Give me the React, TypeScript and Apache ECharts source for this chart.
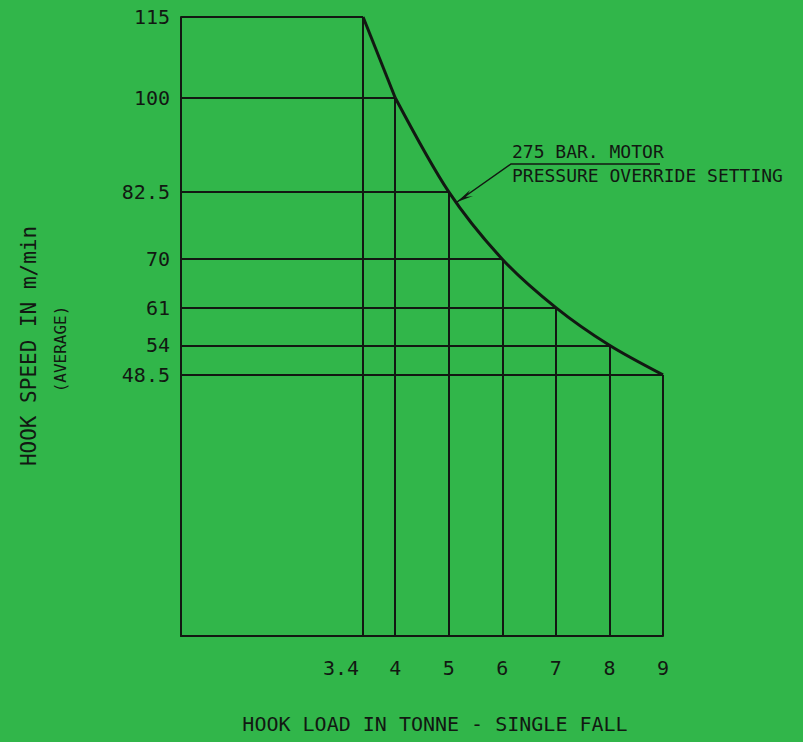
import React, { useEffect, useRef } from "react";
import * as echarts from "echarts";

const loads = [3.4, 4, 5, 6, 7, 8, 9];
const speeds = [115, 100, 82.5, 70, 61, 54, 48.5];
const xTickLabels = ["3.4", "4", "5", "6", "7", "8", "9"];
const yTickLabels = ["115", "100", "82.5", "70", "61", "54", "48.5"];
const annotationLines = ["275 BAR. MOTOR", "PRESSURE OVERRIDE SETTING"];
const xTitle = "HOOK LOAD IN TONNE - SINGLE FALL";
const yTitle = "HOOK SPEED IN m/min";
const ySubTitle = "(AVERAGE)";

const BG = "#31b64a";
const INK = "#121812";
const FONT = "'DejaVu Sans Mono', 'Liberation Mono', monospace";

export default function App() {
  const ref = useRef<HTMLDivElement>(null);
  useEffect(() => {
    const chart = echarts.init(ref.current!, undefined, { renderer: "svg" });
    const curve = loads.map((x, i) => [x, speeds[i]]);
    const segs: any[] = [];
    loads.forEach((x, i) => {
      segs.push({ coords: [[0, speeds[i]], [x, speeds[i]]] });
      segs.push({ coords: [[x, 0], [x, speeds[i]]] });
    });
    chart.setOption({
      animation: false,
      backgroundColor: BG,
      grid: { left: 181, top: 17, right: 140, bottom: 106, containLabel: false },
      xAxis: {
        type: "value",
        min: 0,
        max: 9,
        axisLine: { show: true, lineStyle: { color: INK, width: 2 } },
        axisTick: { show: false },
        splitLine: { show: false },
        axisLabel: {
          customValues: loads,
          margin: 22,
          color: INK,
          fontFamily: FONT,
          fontSize: 20,
          formatter: (v: number) => {
            const i = loads.indexOf(v);
            const s = i >= 0 ? xTickLabels[i] : "";
            return i === 0 ? "{r|" + s + "}" : s;
          },
          rich: {
            r: { fontFamily: FONT, fontSize: 20, color: INK, padding: [0, 44, 0, 0] },
          },
        },
      },
      yAxis: {
        type: "value",
        min: 0,
        max: 115,
        axisLine: { show: true, lineStyle: { color: INK, width: 2 } },
        axisTick: { show: false },
        splitLine: { show: false },
        axisLabel: {
          customValues: speeds,
          margin: 11,
          color: INK,
          fontFamily: FONT,
          fontSize: 20,
          formatter: (v: number) => {
            const i = speeds.indexOf(v);
            return i >= 0 ? yTickLabels[i] : "";
          },
        },
      },
      series: [
        {
          type: "lines",
          coordinateSystem: "cartesian2d",
          polyline: false,
          silent: true,
          lineStyle: { color: INK, width: 2, opacity: 1, curveness: 0 },
          data: segs,
        },
        {
          type: "line",
          data: curve.slice(0, 2),
          symbol: "none",
          lineStyle: { color: INK, width: 3 },
        },
        {
          type: "line",
          data: curve.slice(1),
          smooth: 0.3,
          symbol: "none",
          lineStyle: { color: INK, width: 3 },
        },
      ],
      graphic: [
        {
          type: "polyline",
          shape: { points: [[457, 202], [511, 164], [660, 164]] },
          style: { stroke: INK, lineWidth: 1.5, fill: "none" },
        },
        {
          type: "polygon",
          shape: { points: [[457, 202], [470, 190], [466, 197], [473, 196]] },
          style: { fill: INK },
        },
        {
          type: "text",
          x: 512,
          y: 151,
          style: {
            text: annotationLines[0],
            font: "18px " + FONT,
            fill: INK,
            align: "left",
            verticalAlign: "middle",
          },
        },
        {
          type: "text",
          x: 512,
          y: 175,
          style: {
            text: annotationLines[1],
            font: "18px " + FONT,
            fill: INK,
            align: "left",
            verticalAlign: "middle",
          },
        },
        {
          type: "text",
          x: 435,
          y: 724,
          style: {
            text: xTitle,
            font: "20px " + FONT,
            fill: INK,
            align: "center",
            verticalAlign: "middle",
          },
        },
        {
          type: "text",
          x: 29,
          y: 346,
          rotation: Math.PI / 2,
          style: {
            text: yTitle,
            font: "21px " + FONT,
            fill: INK,
            align: "center",
            verticalAlign: "middle",
          },
        },
        {
          type: "text",
          x: 60,
          y: 349,
          rotation: Math.PI / 2,
          style: {
            text: ySubTitle,
            font: "16px " + FONT,
            fill: INK,
            align: "center",
            verticalAlign: "middle",
          },
        },
      ],
    });
    return () => chart.dispose();
  }, []);
  return (
    <div
      ref={ref}
      style={{ position: "fixed", left: 0, top: 0, width: 803, height: 742 }}
    />
  );
}
